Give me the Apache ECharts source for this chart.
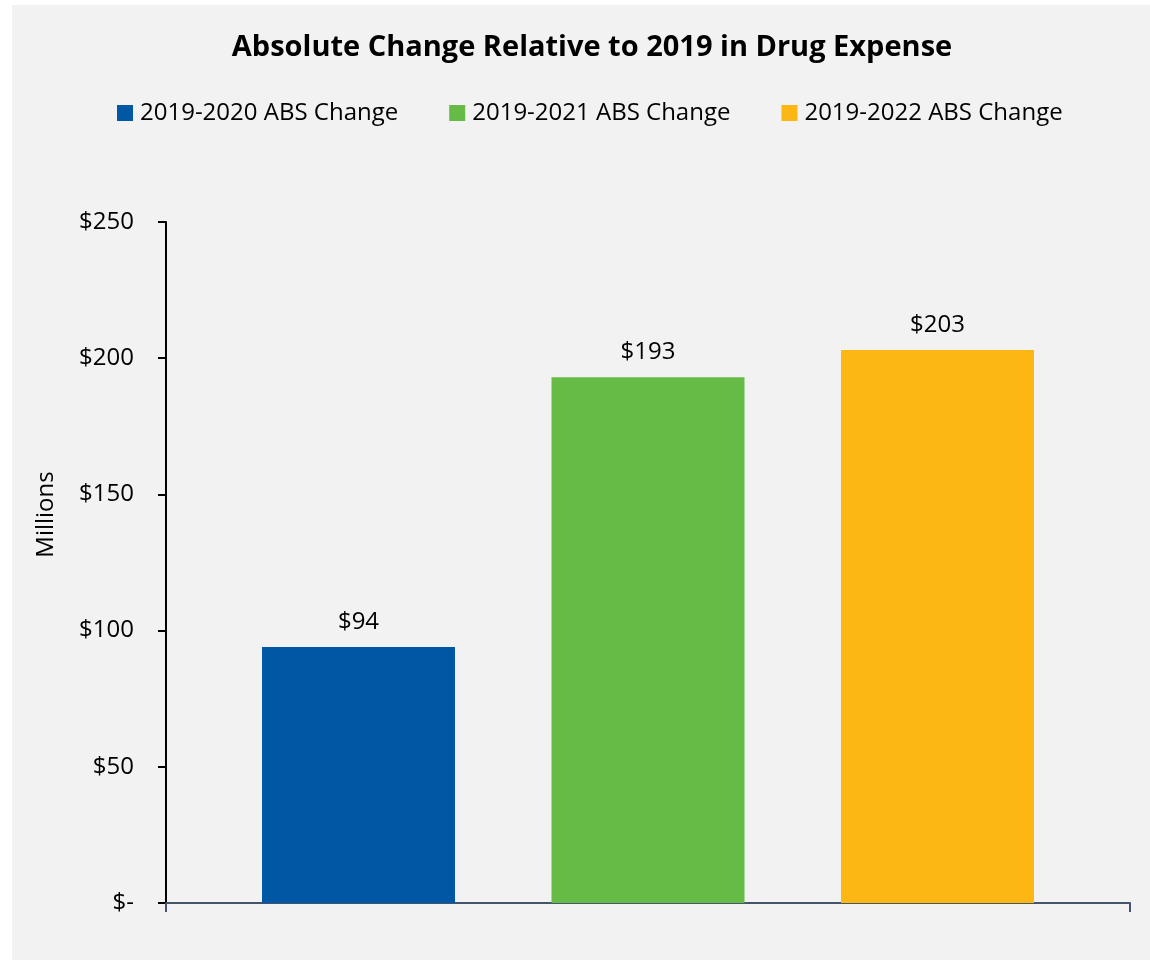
<!DOCTYPE html>
<html>
<head>
<meta charset="utf-8">
<script src="https://cdn.jsdelivr.net/npm/echarts@6/dist/echarts.min.js"></script>
<style>
  html, body { margin: 0; padding: 0; background: #ffffff; }
  #chart { width: 1150px; height: 960px; }
</style>
</head>
<body>
<div id="chart"></div>
<script>
// Drug expense change versus 2019, in millions of dollars
const chartTitle = 'Absolute Change Relative to 2019 in Drug Expense';
const seriesNames = ['2019-2020 ABS Change', '2019-2021 ABS Change', '2019-2022 ABS Change'];
const seriesValues = [94, 193, 203];
const seriesColors = ['#0057a3', '#66bb46', '#fdb714'];
const yTicks = { min: 0, max: 250, interval: 50 };
const yAxisName = 'Millions';

const FONT = '"Open Sans", "Noto Sans", sans-serif';

const chart = echarts.init(document.getElementById('chart'), null, { renderer: 'canvas' });

const money = v => (v === 0 ? '$-' : '$' + v);

const series = seriesNames.map((name, i) => ({
  name: name,
  type: 'bar',
  data: [seriesValues[i]],
  barWidth: 193,
  barGap: '50%',
  itemStyle: { color: seriesColors[i] },
  label: {
    show: true,
    position: 'top',
    distance: 13,
    formatter: p => money(p.value),
    color: '#000000',
    fontFamily: FONT,
    fontSize: 24
  }
}));

chart.setOption({
  backgroundColor: '#ffffff',
  animation: false,
  graphic: [{
    type: 'rect',
    z: -10,
    shape: { x: 12, y: 5, width: 1150, height: 960 },
    style: { fill: '#f2f2f2' },
    silent: true
  }],
  title: {
    text: chartTitle,
    left: 587,
    textAlign: 'center',
    top: 28,
    textStyle: { fontFamily: FONT, fontWeight: 'bold', fontSize: 29, color: '#000000' }
  },
  legend: {
    top: 96,
    left: 112,
    itemWidth: 16,
    itemHeight: 16,
    itemGap: 51,
    icon: 'rect',
    textStyle: { fontFamily: FONT, fontSize: 24, color: '#000000', padding: [0, 0, 0, 2] },
    data: seriesNames
  },
  grid: { left: 166, right: 20, top: 222, bottom: 57, containLabel: false },
  xAxis: {
    type: 'category',
    data: [''],
    boundaryGap: true,
    axisLine: { show: true, lineStyle: { color: '#44546a', width: 2 } },
    axisTick: { show: true, length: 9, lineStyle: { color: '#44546a', width: 2 } },
    axisLabel: { show: false },
    splitLine: { show: false }
  },
  yAxis: {
    type: 'value',
    min: yTicks.min,
    max: yTicks.max,
    interval: yTicks.interval,
    name: yAxisName,
    nameLocation: 'middle',
    nameRotate: 90,
    nameGap: 108,
    nameTextStyle: { fontFamily: FONT, fontSize: 24, color: '#000000', padding: [0, 0, 0, 96] },
    axisLine: { show: true, lineStyle: { color: '#000000', width: 2 } },
    axisTick: { show: true, length: 8, lineStyle: { color: '#000000', width: 2 } },
    axisLabel: {
      formatter: money,
      margin: 32,
      fontFamily: FONT,
      fontSize: 24,
      color: '#000000'
    },
    splitLine: { show: false }
  },
  series: series
});
</script>
</body>
</html>
